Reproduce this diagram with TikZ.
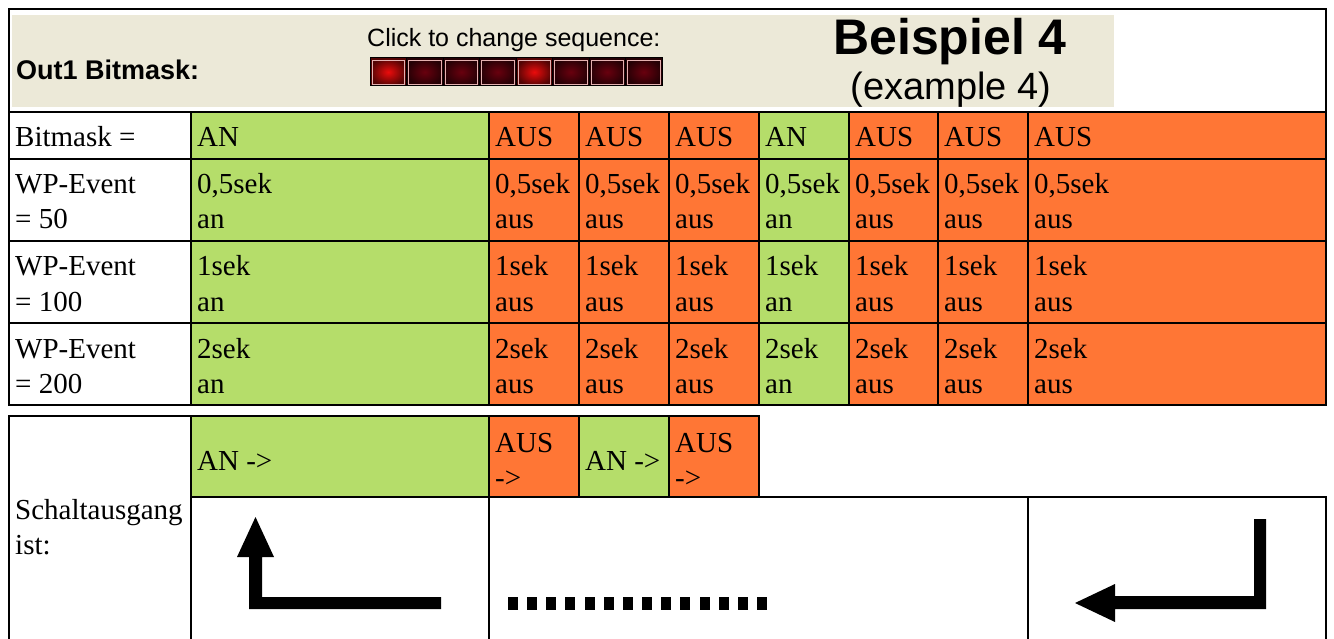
\documentclass[tikz,border=0pt]{standalone}
\usepackage{fontspec}
\setmainfont{Liberation Serif}
\newfontfamily\guifont{Liberation Sans}
\definecolor{angreen}{RGB}{181,221,106}
\definecolor{ausorange}{RGB}{255,118,53}
\definecolor{guibeige}{RGB}{236,233,216}
\definecolor{ledon}{RGB}{235,12,12}
\definecolor{ledoff}{RGB}{105,0,14}
\definecolor{ledrim}{RGB}{228,176,176}

\begin{document}
\begin{tikzpicture}[x=1pt,y=-1pt,
    grid/.style={line width=2.8pt,line cap=rect},
    txt/.style={anchor=base west,inner sep=0pt,font=\fontsize{29}{35}\selectfont},
    guitxt/.style={inner sep=0pt,font=\guifont\fontsize{#1}{#1}\selectfont}]
  \useasboundingbox (0,0) rectangle (1334,639);

  % header (screenshot)
  \fill[guibeige] (12,15) rectangle (1114,107);
  \node[guitxt=27,anchor=base west,font=\guifont\bfseries\fontsize{27}{30}\selectfont] (outlbl) at (16,80) {Out1 Bitmask:};
  \node[guitxt=25,anchor=base west] (clicklbl) at (367,47) {Click to change sequence:};
  \foreach \i/\c in {0/ledon,1/ledoff,2/ledoff,3/ledoff,4/ledon,5/ledoff,6/ledoff,7/ledoff} {
    \shadedraw[inner color=\c,outer color=\c!35!black,line width=1pt] ({370+36.5*\i},58) rectangle ({406.5+36.5*\i},86);
    \draw[ledrim,line width=0.8pt] ({372+36.5*\i},60) rectangle ({404.5+36.5*\i},84);
  }
  \node[guitxt=50,anchor=base,font=\guifont\bfseries\fontsize{50}{56}\selectfont] (title) at (950,55) {Beispiel 4};
  \node[guitxt=38,anchor=base] (subtitle) at (951,100) {(example 4)};

  % upper table
  \node[txt] (bmlbl) at (15,147) {Bitmask =};
  \node[txt] (ev50a) at (15,194) {WP-Event};
  \node[txt] (ev50b) at (15,229) {= 50};
  \node[txt] (ev100a) at (15,276) {WP-Event};
  \node[txt] (ev100b) at (15,311) {= 100};
  \node[txt] (ev200a) at (15,358) {WP-Event};
  \node[txt] (ev200b) at (15,393) {= 200};
  \foreach \xa/\xb/\st/\w/\c [count=\i] in {191/489/AN/an/angreen,489/579/AUS/aus/ausorange,
      579/669/AUS/aus/ausorange,669/759/AUS/aus/ausorange,759/849/AN/an/angreen,
      849/938/AUS/aus/ausorange,938/1028/AUS/aus/ausorange,1028/1326/AUS/aus/ausorange} {
    \fill[\c] (\xa,112) rectangle (\xb,405);
    \node[txt] (bm\i) at (\xa+6,147) {\st};
    \node[txt] (t50\i) at (\xa+6,194) {0,5sek};
    \node[txt] (s50\i) at (\xa+6,229) {\w};
    \node[txt] (t100\i) at (\xa+6,276) {1sek};
    \node[txt] (s100\i) at (\xa+6,311) {\w};
    \node[txt] (t200\i) at (\xa+6,358) {2sek};
    \node[txt] (s200\i) at (\xa+6,393) {\w};
  }
  \draw[grid] (9,9) rectangle (1326,405);
  \foreach \y in {112,159,241,323}
    \draw[grid] (9,\y) -- (1326,\y);
  \foreach \x in {191,489,579,669,759,849,938,1028}
    \draw[grid] (\x,112) -- (\x,405);

  % lower table
  \fill[angreen] (191,416) rectangle (489,497);
  \fill[ausorange] (489,416) rectangle (579,497);
  \fill[angreen] (579,416) rectangle (669,497);
  \fill[ausorange] (669,416) rectangle (759,497);
  \node[txt] (out1) at (197,470) {AN ->};
  \node[txt] (out2a) at (495,452) {AUS};
  \node[txt] (out2b) at (495,487) {->};
  \node[txt] (out3) at (585,470) {AN ->};
  \node[txt] (out4a) at (675,452) {AUS};
  \node[txt] (out4b) at (675,487) {->};
  \node[txt] (schalt) at (15,519) {Schaltausgang};
  \node[txt] (ist) at (15,554) {ist:};
  \draw[grid] (9,639) -- (9,416) -- (759,416) -- (759,497);
  \draw[grid] (191,497) -- (1326,497) -- (1326,639);
  \foreach \x in {191,489}
    \draw[grid] (\x,416) -- (\x,639);
  \foreach \x in {579,669}
    \draw[grid] (\x,416) -- (\x,497);
  \draw[grid] (1028,497) -- (1028,639);

  % switch symbols
  \fill (249,609) -- (249,557) -- (237,557) -- (255.5,517) -- (274,557) -- (262,557)
    -- (262,597) -- (441,597) -- (441,609) -- cycle;
  \foreach \i in {0,...,13}
    \fill ({508+19.15*\i},597) rectangle ++(10,13);
  \fill (1266,519) -- (1266,609) -- (1115,609) -- (1115,622) -- (1075,603) -- (1115,584)
    -- (1115,596) -- (1254,596) -- (1254,519) -- cycle;
\end{tikzpicture}
\end{document}
